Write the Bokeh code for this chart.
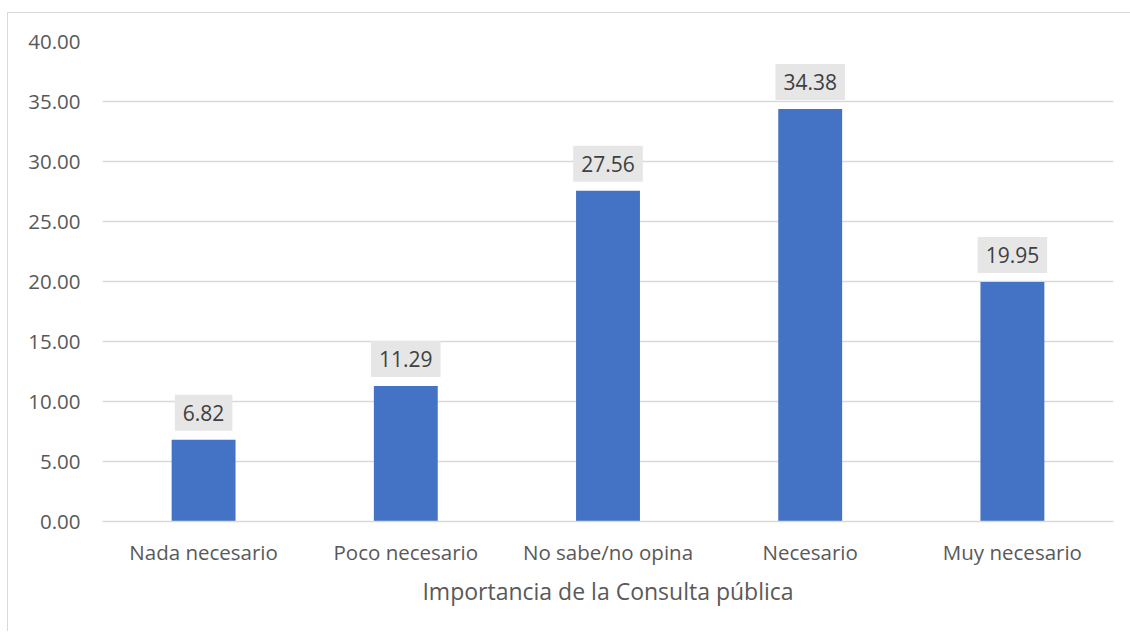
from bokeh.plotting import figure
from bokeh.models import ColumnDataSource, Range1d, FixedTicker, NumeralTickFormatter
from bokeh.embed import file_html
from bokeh.resources import INLINE
from bokeh.core.properties import value

categories = ["Nada necesario", "Poco necesario", "No sabe/no opina", "Necesario", "Muy necesario"]
values = [6.82, 11.29, 27.56, 34.38, 19.95]
y_ticks = [0, 5, 10, 15, 20, 25, 30, 35, 40]
x_title = "Importancia de la Consulta pública"

labels = [f"{v:.2f}" for v in values]
src = ColumnDataSource(dict(cat=categories, val=values, lab=labels))

FONT = "Open Sans"

p = figure(x_range=categories, y_range=Range1d(0, 40),
           frame_width=1011, frame_height=480,
           min_border_left=94, min_border_right=17, min_border_top=28, min_border_bottom=110,
           output_backend="svg", toolbar_location=None,
           background_fill_color="white", border_fill_color="white", outline_line_color=None)
p.styles = {"border-left": "1px solid #d9d9d9", "border-top": "1px solid #d9d9d9",
            "margin-top": "12px", "margin-left": "7px"}

p.vbar(x="cat", top="val", width=0.316, source=src, fill_color="#4472c4", line_color=None)

p.text(x="cat", y="val", text="lab", source=src, text_align="center", text_baseline="bottom",
       y_offset=-9, text_font=value(FONT), text_font_size="21px", text_color="#404040",
       background_fill_color="#e7e6e6", padding=(8, 10))

p.xgrid.grid_line_color = None
p.ygrid.grid_line_color = "#d9d9d9"
p.ygrid.grid_line_width = 1.5
p.yaxis.ticker = FixedTicker(ticks=y_ticks)
p.yaxis.formatter = NumeralTickFormatter(format="0.00")

for ax in (p.xaxis, p.yaxis):
    ax.axis_line_color = None
    ax.major_tick_line_color = None
    ax.minor_tick_line_color = None
    ax.major_tick_out = 0
    ax.major_tick_in = 0
    ax.major_label_text_font = FONT
    ax.major_label_text_font_size = "20.5px"
    ax.major_label_text_color = "#595959"

p.xaxis.axis_line_color = "#d9d9d9"
p.xaxis.axis_line_width = 1.5
p.yaxis.major_label_standoff = 22
p.xaxis.major_label_standoff = 16
p.xaxis.axis_label = x_title
p.xaxis.axis_label_text_font = FONT
p.xaxis.axis_label_text_font_size = "23px"
p.xaxis.axis_label_text_font_style = "normal"
p.xaxis.axis_label_text_color = "#595959"
p.xaxis.axis_label_standoff = 6

open("out.html", "w").write(file_html(p, INLINE))
